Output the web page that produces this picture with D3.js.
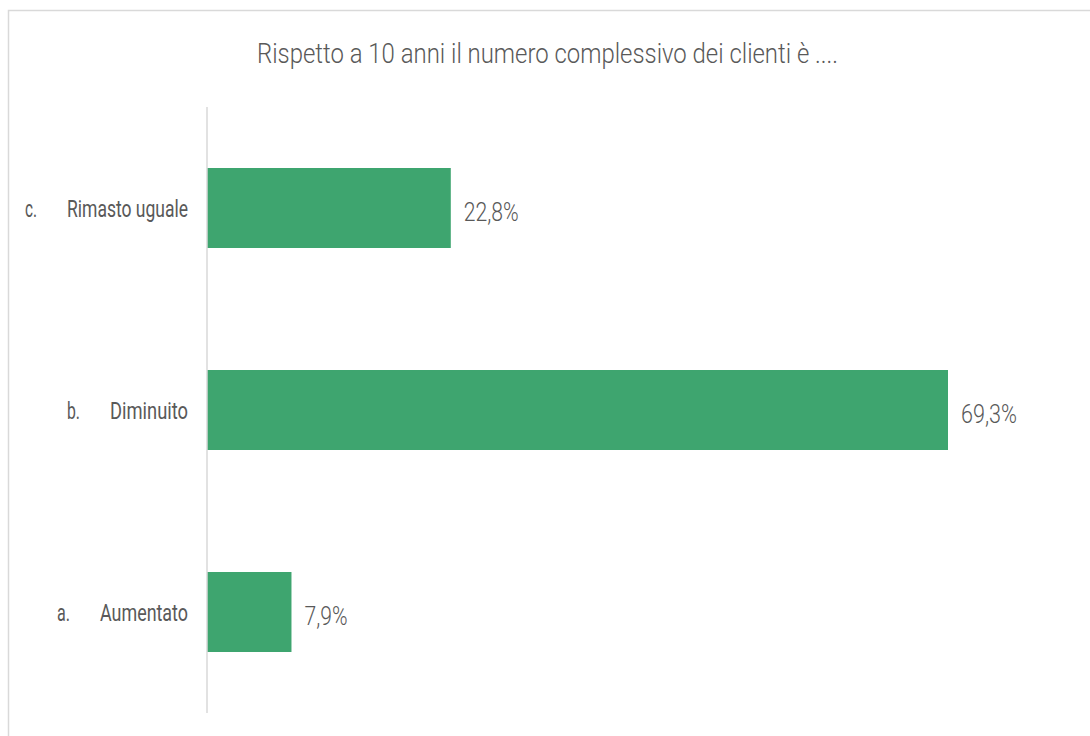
<!DOCTYPE html>
<html><head><meta charset="utf-8">
<script src="https://cdn.jsdelivr.net/npm/d3@7"></script>
<style>
html,body{margin:0;padding:0;background:#fff;}
svg{display:block;}
text{font-family:Roboto,"Liberation Sans",sans-serif;font-weight:300;fill:#595959;}
</style></head><body>
<svg id="chart" width="1090" height="736"></svg>
<script>
const title = "Rispetto a 10 anni il numero complessivo dei clienti è ....";
const prefixes = ["c.", "b.", "a."];
const categories = ["Rimasto uguale", "Diminuito", "Aumentato"];
const values = [22.8, 69.3, 7.9];
const valueLabels = ["22,8%", "69,3%", "7,9%"];

const svg = d3.select("#chart");
const W = 1090, H = 736;

// outer frame
svg.append("rect").attr("x", 8.5).attr("y", 10.5).attr("width", W + 10).attr("height", H + 10)
  .attr("fill", "none").attr("stroke", "#d9d9d9").attr("stroke-width", 1.5);

const x0 = 207;
const x = d3.scaleLinear().domain([0, 69.3]).range([x0, 948]);
const y = d3.scaleBand().domain(categories).range([107, 713]).paddingInner(0.604).paddingOuter(0.302);

// title
svg.append("text").attr("x", 547.5).attr("y", 63).attr("text-anchor", "middle")
  .attr("font-size", 28).attr("textLength", 581).attr("lengthAdjust", "spacingAndGlyphs")
  .text(title);

// bars
svg.append("g").selectAll("rect").data(categories).join("rect")
  .attr("x", x(0)).attr("y", d => y(d))
  .attr("width", (d, i) => x(values[i]) - x(0))
  .attr("height", y.bandwidth())
  .attr("fill", "#3EA56F");

// axis line
const axis = d3.axisLeft(y).tickSize(0).tickFormat("");
const ga = svg.append("g").attr("transform", `translate(${x0},0)`).call(axis);
ga.select(".domain").attr("stroke", "#d9d9d9").attr("stroke-width", 1.5).attr("d", "M0,107V713");

// category labels
const nameW = {"Rimasto uguale": 121, "Diminuito": 78, "Aumentato": 88};
const prefW = [12, 13, 13];
const lab = svg.append("g").style("font-weight", 400);
categories.forEach((c, i) => {
  const cy = y(c) + y.bandwidth() / 2 + 9;
  lab.append("text").attr("x", 188).attr("y", cy).attr("text-anchor", "end").style("font-weight", 400)
    .attr("font-size", 24).attr("textLength", nameW[c]).attr("lengthAdjust", "spacingAndGlyphs").text(c);
  lab.append("text").attr("x", 188 - nameW[c] - 30).attr("y", cy).attr("text-anchor", "end").style("font-weight", 400)
    .attr("font-size", 24).attr("textLength", prefW[i]).attr("lengthAdjust", "spacingAndGlyphs").text(prefixes[i]);
});

// value labels
const valW = [55, 56, 43];
svg.append("g").selectAll("text").data(categories).join("text")
  .attr("x", (d, i) => x(values[i]) + 13)
  .attr("y", d => y(d) + y.bandwidth() / 2 + 13)
  .attr("font-size", 25)
  .attr("textLength", (d, i) => valW[i]).attr("lengthAdjust", "spacingAndGlyphs")
  .text((d, i) => valueLabels[i]);
</script>
</body></html>
